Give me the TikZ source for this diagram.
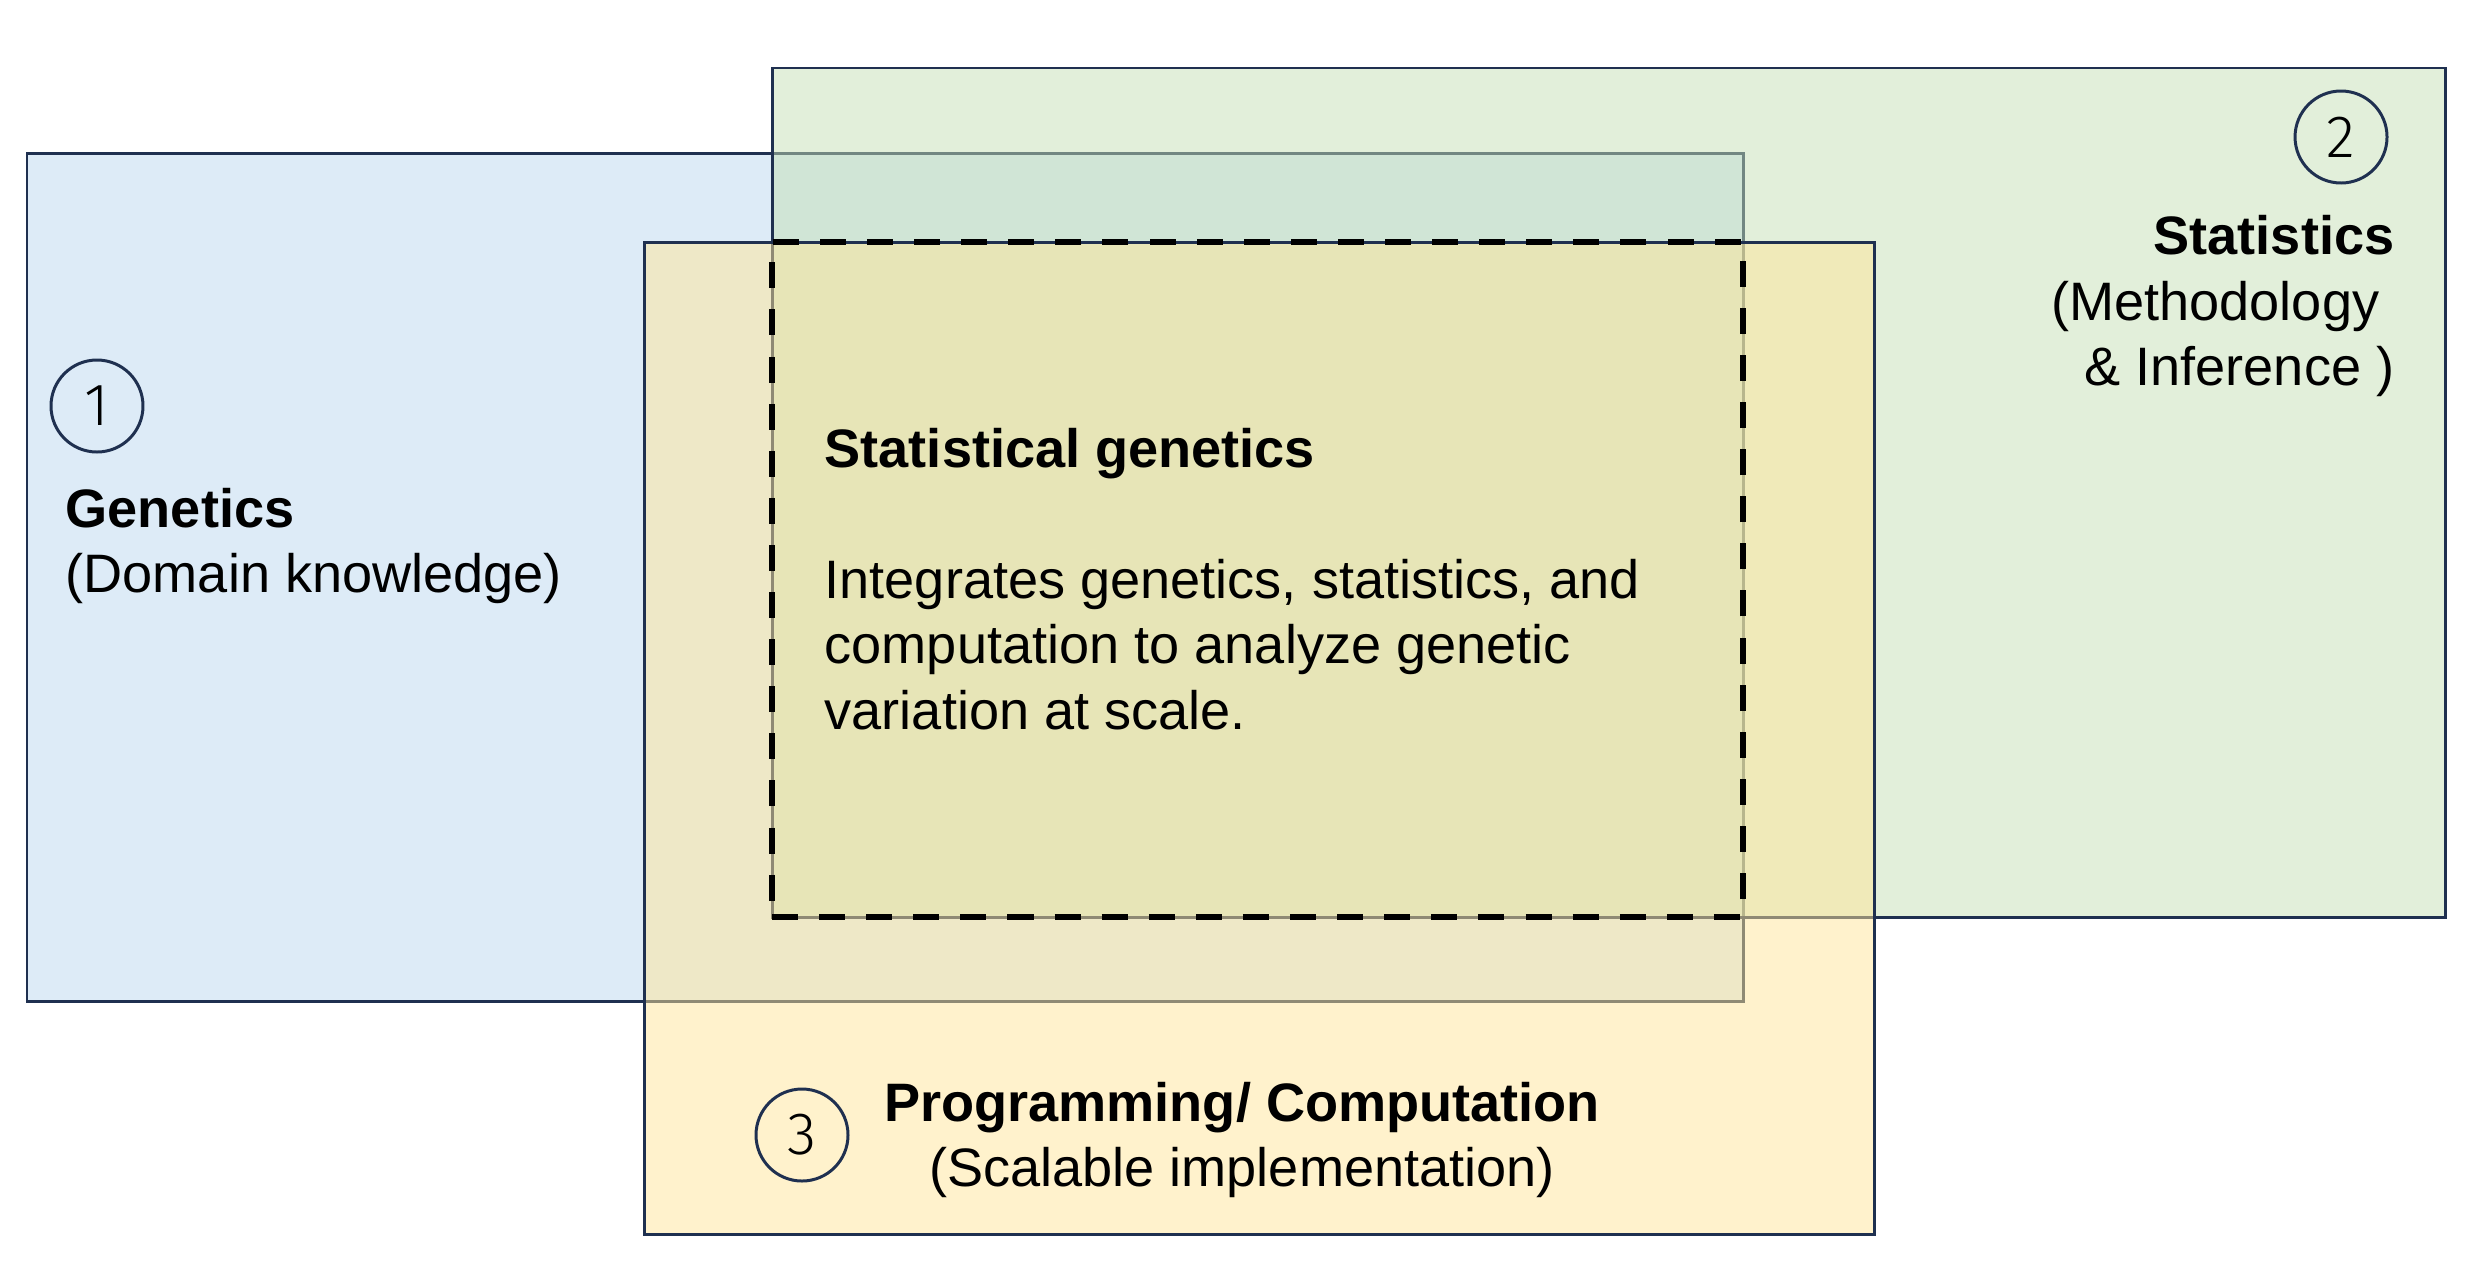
\documentclass[tikz,border=0pt]{standalone}
\usepackage{fontspec}
\setmainfont{Liberation Sans}
\newfontfamily\circfont{Fira Sans Light}
\usetikzlibrary{positioning}
\definecolor{genblue}{RGB}{187,215,239}
\definecolor{statgreen}{RGB}{197,223,181}
\definecolor{progyellow}{RGB}{255,229,153}
\definecolor{edgenavy}{RGB}{31,48,80}
\tikzstyle{area} = [rectangle, draw=edgenavy, line width=0.85pt, fill opacity=0.5, text opacity=1, inner sep=0pt, outer sep=0pt]
\tikzstyle{overlap} = [rectangle, draw=black, line width=1.7pt, dash pattern=on 7.4pt off 6pt, inner sep=0pt, outer sep=0pt]
\tikzstyle{label} = [font=\fontsize{15.4}{18.6}\selectfont, inner sep=0pt]
\tikzstyle{numcirc} = [circle, draw=edgenavy, line width=0.85pt, minimum size=0.92cm, inner sep=0pt, font=\circfont\fontsize{17}{17}\selectfont]

\begin{document}
\begin{tikzpicture}

\useasboundingbox (0,0) rectangle (24.75,-12.64);

% Genetics
\node[area, minimum width=17.16cm, minimum height=8.48cm, fill=genblue] (gen_area) at (8.85,-5.77) {};
% Statistics
\node[area, minimum width=16.73cm, minimum height=8.49cm, fill=statgreen] (stat_area) at (16.085,-4.925) {};
% Programming
\node[area, minimum width=12.30cm, minimum height=9.92cm, fill=progyellow] (prog_area) at (12.59,-7.38) {};
% Overlap
\node[overlap, minimum width=9.71cm, minimum height=6.75cm] (stat_gen) at (12.575,-5.795) {};

% Labels
\node[numcirc] (num_gen) at (0.97,-4.06) {1};
\node[label, align=left, anchor=west] (gen_text) at (0.65,-5.46) {\textbf{Genetics}\\(Domain knowledge)};

\node[numcirc] (num_stat) at (23.41,-1.37) {2};
\node[label, align=right, anchor=east] (stat_text) at (23.95,-3.06) {\textbf{Statistics}\\\mbox{(Methodology }\\\& Inference )};

\node[numcirc] (num_prog) at (8.02,-11.35) {3};
\node[label, align=center] (prog_text) at (12.42,-11.40) {\textbf{Programming/ Computation}\\(Scalable implementation)};

\node[label, align=left, anchor=west] (stat_gen_text) at (8.24,-5.79) {\textbf{Statistical genetics}\\[\baselineskip]
Integrates genetics, statistics, and\\
computation to analyze genetic\\
variation at scale.};

\end{tikzpicture}
\end{document}
